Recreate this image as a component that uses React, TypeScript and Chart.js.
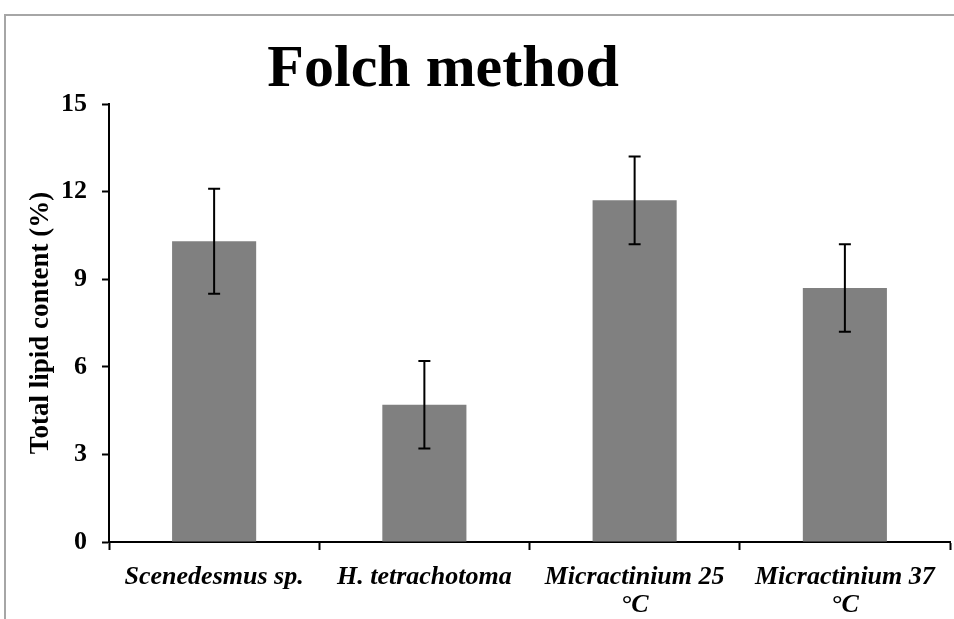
import React, { useEffect, useRef } from "react";
import { Chart, registerables } from "chart.js";

Chart.register(...registerables);

const chartTitle = "Folch method";
const yAxisTitle = "Total lipid content (%)";
const categories: string[][] = [
  ["Scenedesmus sp."],
  ["H. tetrachotoma"],
  ["Micractinium 25", "°C"],
  ["Micractinium 37", "°C"],
];
const lipidValues = [10.3, 4.7, 11.7, 8.7];
const lipidErrors = [1.8, 1.5, 1.5, 1.5];
const yMin = 0;
const yMax = 15;
const yStep = 3;

const SERIF = "'Liberation Serif', 'Times New Roman', serif";

const framePlugin = {
  id: "frame",
  beforeDraw(chart: any) {
    const ctx = chart.ctx;
    ctx.save();
    ctx.strokeStyle = "#a6a6a6";
    ctx.lineWidth = 2;
    ctx.beginPath();
    ctx.moveTo(5, chart.height);
    ctx.lineTo(5, 15);
    ctx.lineTo(chart.width, 15);
    ctx.stroke();
    ctx.restore();
  },
};

const titlePlugin = {
  id: "customTitle",
  afterDraw(chart: any) {
    const ctx = chart.ctx;
    ctx.save();
    ctx.fillStyle = "#000";
    ctx.font = `bold 60px ${SERIF}`;
    ctx.textAlign = "center";
    ctx.textBaseline = "alphabetic";
    ctx.fillText(chartTitle, chart.width * 0.4645, 86);
    ctx.restore();
  },
};

const errorBarPlugin = {
  id: "errorBars",
  afterDatasetsDraw(chart: any) {
    const ctx = chart.ctx;
    const meta = chart.getDatasetMeta(0);
    const yScale = chart.scales.y;
    ctx.save();
    ctx.strokeStyle = "#000";
    ctx.lineWidth = 2;
    meta.data.forEach((bar: any, i: number) => {
      const v = lipidValues[i];
      const e = lipidErrors[i];
      const top = yScale.getPixelForValue(v + e);
      const bot = yScale.getPixelForValue(v - e);
      const x = bar.x;
      const cap = 6;
      ctx.beginPath();
      ctx.moveTo(x, top);
      ctx.lineTo(x, bot);
      ctx.moveTo(x - cap, top);
      ctx.lineTo(x + cap, top);
      ctx.moveTo(x - cap, bot);
      ctx.lineTo(x + cap, bot);
      ctx.stroke();
    });
    ctx.restore();
  },
};

export default function App() {
  const canvasRef = useRef<HTMLCanvasElement | null>(null);

  useEffect(() => {
    if (!canvasRef.current) return;
    const chart = new Chart(canvasRef.current, {
      type: "bar",
      data: {
        labels: categories as any,
        datasets: [
          {
            data: lipidValues,
            backgroundColor: "#808080",
            borderWidth: 0,
            barPercentage: 0.4,
            categoryPercentage: 1,
          },
        ],
      },
      options: {
        responsive: false,
        maintainAspectRatio: false,
        animation: false,
        layout: { padding: { top: 104, left: 0, right: 4, bottom: 0 } },
        plugins: {
          legend: { display: false },
          tooltip: { enabled: false },
          title: { display: false },
        },
        scales: {
          x: {
            type: "category",
            grid: {
              display: true,
              drawOnChartArea: false,
              offset: true,
              tickLength: 8,
              tickWidth: 2,
              tickColor: "#000",
            },
            border: { display: true, color: "#000", width: 2 },
            ticks: {
              color: "#000",
              padding: 13,
              maxRotation: 0,
              autoSkip: false,
              font: { family: SERIF, size: 26, weight: "bold", style: "italic", lineHeight: 1.08 },
            },
            afterFit(scale: any) {
              scale.height = 77;
            },
          },
          y: {
            min: yMin,
            max: yMax,
            grid: {
              display: true,
              drawOnChartArea: false,
              tickLength: 7,
              tickWidth: 2,
              tickColor: "#000",
            },
            border: { display: true, color: "#000", width: 2 },
            ticks: {
              stepSize: yStep,
              color: "#000",
              padding: 15,
              font: { family: SERIF, size: 26, weight: "bold" },
            },
            title: {
              display: true,
              text: yAxisTitle,
              color: "#000",
              padding: { top: 26, bottom: 0 },
              font: { family: SERIF, size: 27, weight: "bold", lineHeight: 1.1 },
            },
            afterFit(scale: any) {
              scale.width = 109;
            },
          },
        },
      },
      plugins: [framePlugin, titlePlugin, errorBarPlugin],
    } as any);
    return () => chart.destroy();
  }, []);

  return (
    <div style={{ position: "fixed", left: 0, top: 0, width: 954, height: 619, background: "#fff" }}>
      <canvas ref={canvasRef} width={954} height={619} style={{ width: 954, height: 619, display: "block" }} />
    </div>
  );
}
